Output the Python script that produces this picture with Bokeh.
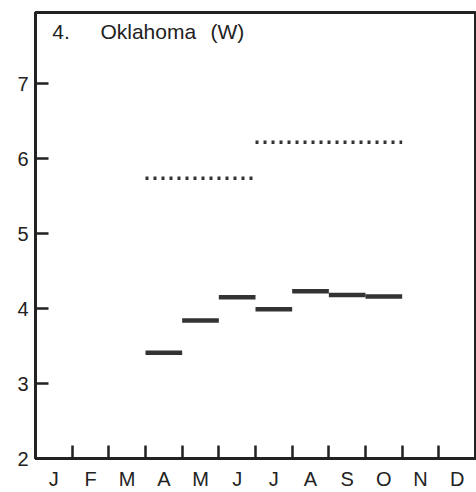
from bokeh.plotting import figure
from bokeh.models import Range1d, FixedTicker, Label
from bokeh.embed import file_html
from bokeh.resources import INLINE

# ---- data ----
months = ["J", "F", "M", "A", "M", "J", "J", "A", "S", "O", "N", "D"]
y_ticks = [2, 3, 4, 5, 6, 7]

# solid monthly bars: month index (0 = Jan) and value
solid_month = [3, 4, 5, 6, 7, 8, 9]
solid_value = [3.41, 3.84, 4.15, 3.99, 4.23, 4.18, 4.16]

# dotted period levels: start month index, end month index, value
dotted_start = [3, 6]
dotted_end = [6, 10]
dotted_value = [5.74, 6.22]

title_num = "4."
title_name = "Oklahoma"
title_tag = "(W)"

INK = "#222222"
FONT = "Liberation Sans"

centers = [i + 0.5 for i in range(len(months))]
boundaries = list(range(1, len(months)))

p = figure(width=476, height=492,
           x_range=Range1d(0, len(months)), y_range=Range1d(2, 7.95),
           output_backend="svg", toolbar_location=None,
           min_border_left=35, min_border_right=1,
           min_border_top=12, min_border_bottom=34)
p.grid.visible = False
p.background_fill_color = "white"
p.border_fill_color = "white"
p.outline_line_color = INK
p.outline_line_width = 3
p.outline_line_alpha = 1

# x axis: tick marks at month boundaries (minor), letters at month centres
xa = p.xaxis[0]
xa.ticker = FixedTicker(ticks=centers, minor_ticks=boundaries)
xa.major_label_overrides = {c: m for c, m in zip(centers, months)}
xa.major_tick_line_color = None
xa.major_tick_in = 0
xa.major_tick_out = 0
xa.minor_tick_in = 13
xa.minor_tick_out = 0
xa.minor_tick_line_width = 2.5
xa.minor_tick_line_color = INK
xa.axis_line_width = 3
xa.axis_line_color = INK
xa.major_label_text_font = FONT
xa.major_label_text_font_size = "20px"
xa.major_label_text_color = INK
xa.major_label_standoff = 9

ya = p.yaxis[0]
ya.ticker = FixedTicker(ticks=y_ticks)
ya.major_tick_in = 13
ya.major_tick_out = 0
ya.major_tick_line_width = 2.5
ya.major_tick_line_color = INK
ya.minor_tick_line_color = None
ya.minor_tick_in = 0
ya.minor_tick_out = 0
ya.axis_line_width = 3
ya.axis_line_color = INK
ya.major_label_text_font = FONT
ya.major_label_text_font_size = "20px"
ya.major_label_text_color = INK
ya.major_label_standoff = 7

# solid bars
p.segment(x0=solid_month, x1=[m + 1 for m in solid_month],
          y0=solid_value, y1=solid_value,
          line_color="#333333", line_width=4.5)

# dotted levels
p.segment(x0=dotted_start, x1=dotted_end,
          y0=dotted_value, y1=dotted_value,
          line_color="#333333", line_width=3.5, line_dash="3 5")

# in-plot title
for tx, tt in [(0.46, title_num), (1.77, title_name), (4.77, title_tag)]:
    p.add_layout(Label(x=tx, y=7.69, text=tt, text_font=FONT,
                       text_font_size="21px", text_color=INK,
                       text_baseline="middle"))

open("out.html", "w").write(file_html(p, INLINE))
